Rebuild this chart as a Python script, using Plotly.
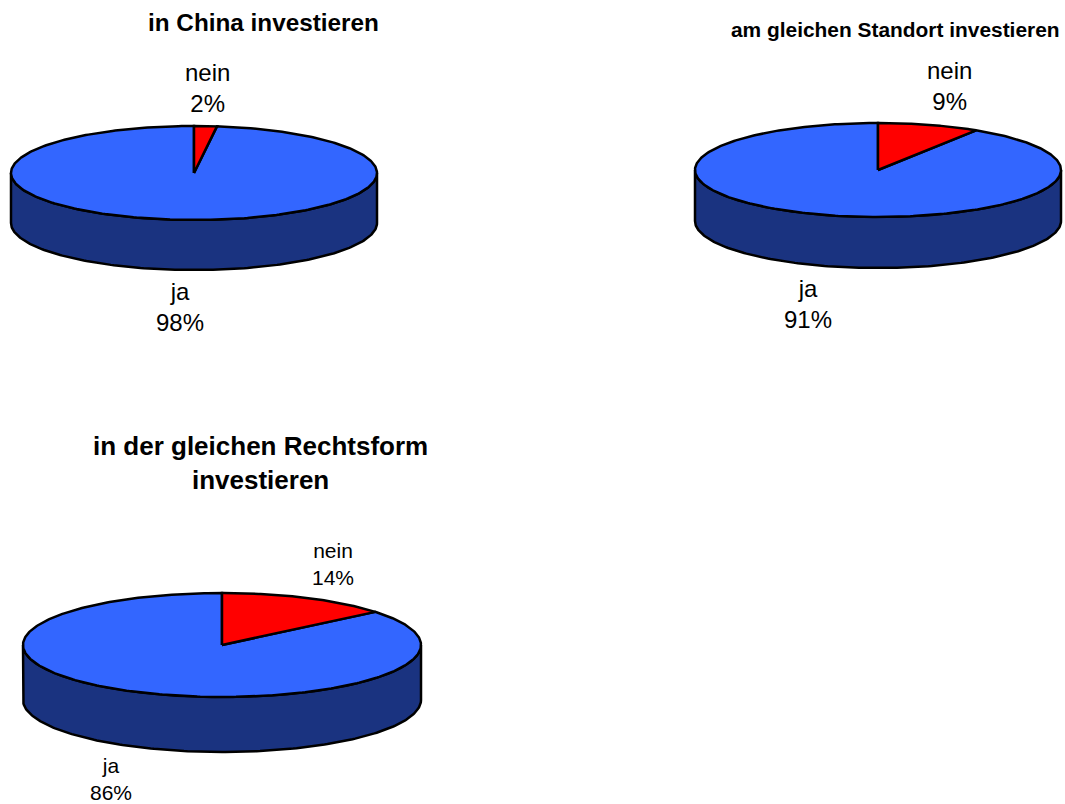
import numpy as np
import plotly.graph_objects as go

titles = ["in China investieren", "am gleichen Standort investieren", "in der gleichen Rechtsform<br>investieren"]
labels = ["nein", "ja"]
nein_values = [2, 9, 14]
ja_values = [98, 91, 86]

# layout (pixels on the page): centre x, centre y, radius x, radius y, depth
pies = [(194, 173, 183, 47, 50), (878, 170, 183, 47, 51), (222, 645, 199, 52, 55)]
title_pos = [(263, 22, 24.3), (895, 29, 20.9), (260, 463, 26)]
nein_pos = [(207, 88, 24), (949, 86, 24), (333, 564, 21)]
ja_pos = [(180, 307, 24), (808, 304, 24), (111, 779, 21)]

BLUE, RED, DARK, EDGE = "#3366FF", "#FF0000", "#1A3380", "#000000"
FONT = "Liberation Sans, Arial, sans-serif"

fig = go.Figure()


def poly(x, y, color):
    fig.add_trace(go.Scatter(x=x, y=y, mode="lines", fill="toself", fillcolor=color,
                             line=dict(color=EDGE, width=2.5), hoverinfo="skip", showlegend=False))


for (cx, cy, rx, ry, d), nein in zip(pies, nein_values):
    # side wall: lower half of the ellipse, extruded down
    t = np.linspace(np.pi / 2, 3 * np.pi / 2, 181)  # angle clockwise from top
    ex, ey = cx + rx * np.sin(t), cy - ry * np.cos(t)
    poly(np.r_[ex, ex[::-1], ex[0]], np.r_[ey, ey[::-1] + d, ey[0]], DARK)
    # blue slice
    a = 2 * np.pi * nein / 100
    t = np.linspace(a, 2 * np.pi, 361)
    poly(np.r_[cx, cx + rx * np.sin(t), cx], np.r_[cy, cy - ry * np.cos(t), cy], BLUE)
    # red slice
    t = np.linspace(0, a, 91)
    poly(np.r_[cx, cx + rx * np.sin(t), cx], np.r_[cy, cy - ry * np.cos(t), cy], RED)

for text, (x, y, s) in zip(titles, title_pos):
    fig.add_annotation(x=x, y=y, text=f"<b>{text}</b>", showarrow=False,
                       font=dict(family=FONT, size=s, color="black"))
for v, (x, y, s) in zip(nein_values, nein_pos):
    fig.add_annotation(x=x, y=y, text=f"{labels[0]}<br>{v}%", showarrow=False,
                       font=dict(family=FONT, size=s, color="black"))
for v, (x, y, s) in zip(ja_values, ja_pos):
    fig.add_annotation(x=x, y=y, text=f"{labels[1]}<br>{v}%", showarrow=False,
                       font=dict(family=FONT, size=s, color="black"))

fig.update_xaxes(range=[0, 1065], visible=False, domain=[0, 1])
fig.update_yaxes(range=[804, 0], visible=False, domain=[0, 1])
fig.update_layout(width=1065, height=804, margin=dict(l=0, r=0, t=0, b=0),
                  paper_bgcolor="white", plot_bgcolor="white", showlegend=False)
fig.write_html("out.html", config=dict(displayModeBar=False),
               post_script="document.body.style.margin='0';document.body.style.overflow='hidden';")
